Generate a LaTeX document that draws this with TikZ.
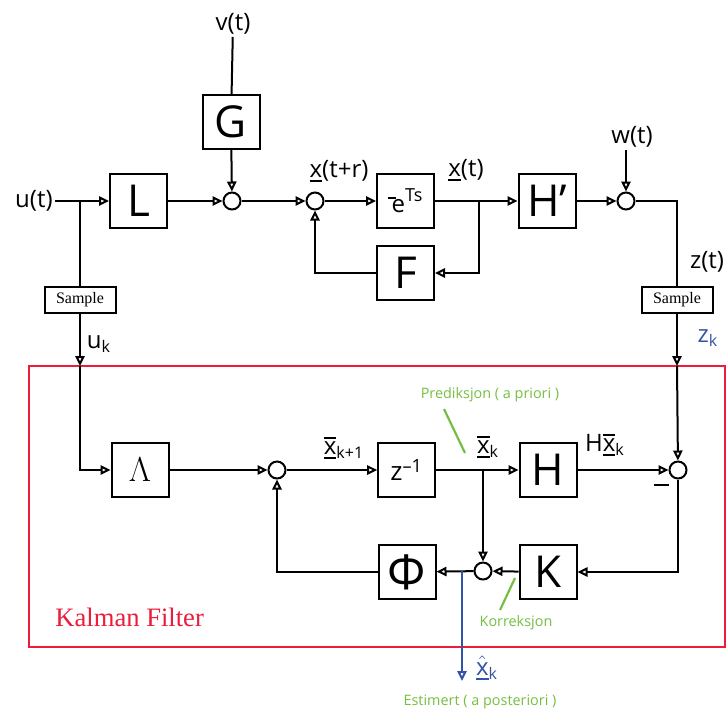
\documentclass[tikz,border=0pt]{standalone}
\usepackage{fontspec}
\setmainfont{Open Sans}
\newfontfamily\timesfont{Liberation Serif}
\usepackage{tikz}
\usetikzlibrary{
	arrows.meta,
	calc,
	positioning
}
\definecolor{KalmanRed}{RGB}{236,28,58}
\definecolor{NoteGreen}{RGB}{118,190,67}
\definecolor{EstBlue}{RGB}{52,82,166}
% understreket vektor, med strek over og hatt
\newcommand\xul[1]{\begingroup\setbox0\hbox{#1}\rlap{\rule[-0.2em]{\wd0}{0.075em}}\box0\endgroup}
\newcommand\xbar{\begingroup\setbox0\hbox{x}\rlap{\rule[-0.2em]{\wd0}{0.075em}}\rlap{\rule[0.66em]{\wd0}{0.075em}}\box0\endgroup}
\newcommand\xhat{\begingroup\setbox0\hbox{x}\rlap{\rule[-0.2em]{\wd0}{0.075em}}$\hat{\box0}$\endgroup}
\tikzset{
	block/.style={draw, line width=1pt, minimum width=28.5pt, minimum height=27pt, inner sep=0pt, font=\fontsize{22}{24}\selectfont},
	sumnode/.style={draw, circle, line width=1pt, minimum size=8.5pt, inner sep=0pt},
	smpl/.style={draw, line width=1pt, minimum width=35.5pt, minimum height=13pt, inner sep=0pt, font=\timesfont\fontsize{8}{9}\selectfont},
	lbl/.style={font=\fontsize{12}{13}\selectfont, inner sep=1pt},
	note/.style={text=NoteGreen, font=\fontsize{7.2}{8}\selectfont, inner sep=1pt},
	wire/.style={line width=1pt},
	sig/.style={wire, -{Triangle[open, length=5pt, width=4.6pt]}}
}

\begin{document}
\begin{tikzpicture}[x=0.5pt, y=-0.5pt]
	\useasboundingbox (0,0) rectangle (726,709);
	% kontinuerlig system
	\node[lbl, anchor=east] (ut) at (55,201) {u(t)};
	\node[block] (L) at (138.5,201) {L};
	\node[sumnode] (s1) at (232,201) {};
	\node[block] (G) at (231,122) {G};
	\node[lbl] (vt) at (233,24) {v(t)};
	\node[sumnode] (s2) at (315,201) {};
	\node[block, font=\fontsize{12}{13}\selectfont] (E) at (405.5,201)
		{\raisebox{6.8pt}{\rule{4pt}{1.1pt}}\kern-2.4pt e\raisebox{5.5pt}{\fontsize{9}{10}\selectfont Ts}};
	\node[block] (F) at (405.5,273) {F};
	\node[block] (Hp) at (547,201) {H’};
	\node[sumnode] (s3) at (626,201) {};
	\node[lbl] (wt) at (632,137) {w(t)};
	\node[lbl] at (339,171) {\xul{x}(t+r)};
	\node[lbl] at (466,170) {\xul{x}(t)};
	\node[lbl] at (707,262) {z(t)};
	\node[smpl] (smp1) at (80,300) {Sample};
	\node[smpl] (smp2) at (677,300) {Sample};
	\coordinate (j1) at (80,201);
	\coordinate (j2) at (479,201);
	\draw[sig] (ut) -- (L);
	\draw[wire] (j1) -- (smp1);
	\draw[sig] (L) -- (s1);
	\draw[wire] (vt) -- (G);
	\draw[sig] (G) -- (s1);
	\draw[sig] (s1) -- (s2);
	\draw[sig] (s2) -- (E);
	\draw[sig] (E) -- (Hp);
	\draw[sig] (j2) |- (F);
	\draw[sig] (F) -| (s2);
	\draw[sig] (Hp) -- (s3);
	\draw[sig] (wt.south -| s3) -- (s3);
	\draw[wire] (s3) -| (smp2);
	% Kalman filter
	\draw[KalmanRed, line width=1.1pt] (29,366) rectangle (725,647);
	\node[anchor=west, text=KalmanRed, font=\timesfont\fontsize{13.3}{15}\selectfont, inner sep=1pt] (kf) at (53,617) {Kalman Filter};
	\coordinate (kin1) at (80,366);
	\coordinate (kin2) at (677,366);
	\node[lbl] at (99,344) {u\textsubscript{k}};
	\node[lbl, text=EstBlue] at (708,338) {z\textsubscript{k}};
	\node[block, font=\fontsize{17}{19}\selectfont] (Lam) at (140,470) {$\Lambda$};
	\node[sumnode] (s4) at (277,470) {};
	\node[block, font=\fontsize{13}{14}\selectfont] (Z) at (406.7,470) {z\textsuperscript{–1}};
	\node[block] (H) at (548,470) {H};
	\node[sumnode] (s6) at (678,470) {};
	\node[block] (K) at (548,572) {K};
	\node[sumnode] (s5) at (483,571) {};
	\node[block, font=\fontsize{24}{26}\selectfont] (Phi) at (407,572) {Φ};
	\node[lbl] at (344,448) {\xbar\textsubscript{k+1}};
	\node[lbl] at (488,447) {\xbar\textsubscript{k}};
	\node[lbl] at (605,445) {H\xbar\textsubscript{k}};
	\node[inner sep=0pt] (minus) at (661,485) {\rule{7.5pt}{1.2pt}};
	\coordinate (j3) at (483,470);
	\coordinate (j4) at (462,571);
	\coordinate (xo) at (462,681);
	\draw[sig] (smp1) -- (kin1);
	\draw[sig] (kin1) |- (Lam);
	\draw[sig] (smp2) -- (kin2);
	\draw[sig] (kin2) -- (s6);
	\draw[sig] (Lam) -- (s4);
	\draw[sig] (s4) -- (Z);
	\draw[sig] (Z) -- (H);
	\draw[sig] (H) -- (s6);
	\draw[sig] (j3) -- (s5);
	\draw[sig] (s6) |- (K);
	\draw[sig] (K) -- (s5);
	\draw[sig] (s5) -- (Phi);
	\draw[sig] (Phi) -| (s4);
	\draw[sig, EstBlue] (j4) -- (xo);
	\node[lbl, text=EstBlue] at (487,668) {\xhat\textsubscript{k}};
	% merknader
	\node[note] (pri) at (490,395) {Prediksjon ( a priori )};
	\node[note] (kor) at (516,623) {Korreksjon};
	\node[note] (est) at (480,702) {Estimert ( a posteriori )};
	\coordinate (p1) at (444,409);
	\coordinate (p2) at (465,453);
	\coordinate (k1) at (515,578);
	\coordinate (k2) at (500,610);
	\draw[NoteGreen, line width=1.1pt] (p1) -- (p2);
	\draw[NoteGreen, line width=1.1pt] (k1) -- (k2);
\end{tikzpicture}
\end{document}
